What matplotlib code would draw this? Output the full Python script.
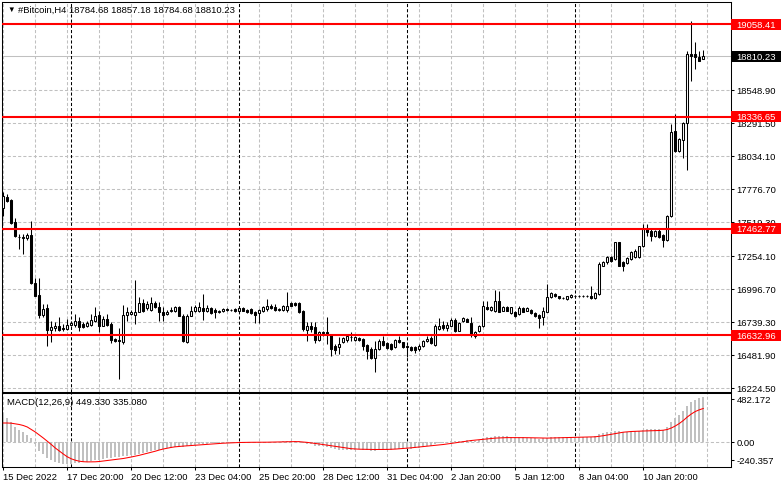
import numpy as np
import matplotlib.pyplot as plt
from matplotlib.patches import Rectangle

# H4 bars, 15 Dec 2022 04:00 .. 11 Jan 2023 20:00
opens = [
    17623, 17709, 17691, 17514, 17400, 17395, 17389, 17415, 17041, 16947,
    16792, 16843, 16677, 16690, 16708, 16687, 16682, 16716, 16716, 16742,
    16721, 16708, 16716, 16747, 16791, 16708, 16760, 16721, 16604, 16596,
    16583, 16791, 16799, 16791, 16817, 16885, 16843, 16833, 16885, 16851,
    16817, 16799, 16822, 16825, 16851, 16786, 16578, 16786, 16825, 16820,
    16843, 16822, 16843, 16828, 16812, 16820, 16835, 16833, 16838, 16822,
    16843, 16833, 16838, 16817, 16804, 16820, 16838, 16864, 16851, 16833,
    16833, 16830, 16885, 16885, 16882, 16825, 16677, 16703, 16695, 16599,
    16656, 16656, 16635, 16552, 16544, 16578, 16596, 16617, 16596, 16609,
    16604, 16560, 16526, 16456, 16526, 16591, 16573, 16565, 16539, 16596,
    16578, 16552, 16544, 16539, 16526, 16552, 16586, 16612, 16560, 16682,
    16713, 16687, 16708, 16755, 16669, 16742, 16760, 16729, 16625, 16664,
    16703, 16851, 16833, 16825, 16903, 16825, 16851, 16807, 16812, 16799,
    16843, 16825, 16833, 16807, 16791, 16773, 16817, 16929, 16955, 16937,
    16921, 16916, 16929, 16937, 16940, 16937, 16942, 16942, 16921, 16955,
    17176, 17202, 17241, 17228, 17358, 17207, 17197, 17228, 17241, 17241,
    17327, 17467, 17449, 17410, 17449, 17415, 17379, 17561, 18229, 18073,
    18159, 18289, 18827, 18827, 18801, 18784.68]
highs = [
    17748, 17735, 17696, 17545, 17423, 17423, 17430, 17527, 17077, 17077,
    16877, 16877, 16747, 16734, 16773, 16721, 16760, 16747, 16799, 16773,
    16739, 16747, 16799, 16856, 16825, 16786, 16799, 16734, 16614, 16687,
    16869, 16851, 16830, 17067, 16929, 16916, 16900, 16929, 16903, 16890,
    16851, 16833, 16851, 16864, 16864, 16799, 16799, 16864, 16869, 16890,
    16955, 16869, 16851, 16843, 16833, 16848, 16843, 16840, 16843, 16856,
    16851, 16838, 16843, 16825, 16838, 16864, 16916, 16877, 16877, 16843,
    16869, 16968, 16895, 16895, 16890, 16833, 16739, 16739, 16734, 16669,
    16669, 16773, 16643, 16565, 16617, 16622, 16635, 16656, 16630, 16617,
    16609, 16565, 16539, 16591, 16604, 16625, 16578, 16570, 16604, 16625,
    16583, 16557, 16552, 16552, 16565, 16596, 16625, 16625, 16721, 16765,
    16747, 16739, 16770, 16765, 16739, 16773, 16770, 16773, 16669, 16713,
    16903, 16903, 16859, 16986, 16981, 16859, 16859, 16856, 16820, 16859,
    16851, 16851, 16838, 16812, 16799, 16851, 17033, 16970, 16963, 16942,
    16932, 16942, 16952, 16947, 16947, 16950, 16947, 17015, 16970, 17202,
    17210, 17254, 17249, 17363, 17363, 17215, 17241, 17293, 17306, 17332,
    17501, 17501, 17462, 17458, 17462, 17423, 17570, 18281, 18359, 18172,
    18300, 18853, 19087, 18918, 18853, 18857.18]
lows = [
    17566, 17670, 17500, 17397, 17306, 17267, 17380, 17033, 16937, 16765,
    16773, 16547, 16583, 16669, 16669, 16669, 16677, 16708, 16695, 16669,
    16692, 16695, 16708, 16734, 16656, 16703, 16708, 16573, 16583, 16292,
    16565, 16747, 16790, 16721, 16812, 16817, 16830, 16825, 16843, 16747,
    16747, 16791, 16812, 16817, 16781, 16583, 16573, 16781, 16817, 16812,
    16755, 16812, 16799, 16765, 16804, 16812, 16825, 16822, 16817, 16817,
    16820, 16804, 16799, 16726, 16726, 16812, 16825, 16838, 16825, 16825,
    16825, 16812, 16859, 16864, 16804, 16669, 16591, 16656, 16573, 16591,
    16630, 16565, 16474, 16487, 16487, 16570, 16583, 16591, 16591, 16591,
    16521, 16448, 16448, 16344, 16521, 16552, 16526, 16521, 16534, 16573,
    16534, 16461, 16513, 16495, 16513, 16544, 16578, 16565, 16552, 16677,
    16677, 16669, 16703, 16656, 16664, 16734, 16734, 16617, 16612, 16656,
    16695, 16833, 16825, 16817, 16812, 16820, 16820, 16799, 16776, 16791,
    16812, 16820, 16799, 16776, 16687, 16713, 16812, 16924, 16932, 16919,
    16916, 16911, 16924, 16929, 16932, 16932, 16929, 16916, 16916, 16947,
    17171, 17189, 17207, 17223, 17171, 17137, 17189, 17223, 17236, 17233,
    17319, 17405, 17371, 17400, 17390, 17319, 17371, 17553, 18065, 18065,
    18013, 17925, 18619, 18710, 18770, 18784.68]
closes = [
    17722, 17683, 17506, 17405, 17397, 17399, 17415, 17041, 16942, 16792,
    16838, 16677, 16698, 16708, 16677, 16682, 16716, 16729, 16742, 16695,
    16700, 16729, 16755, 16781, 16708, 16760, 16716, 16599, 16591, 16586,
    16791, 16817, 16817, 16817, 16885, 16825, 16877, 16885, 16851, 16817,
    16791, 16817, 16830, 16851, 16786, 16591, 16786, 16825, 16851, 16851,
    16822, 16843, 16804, 16812, 16820, 16838, 16833, 16830, 16822, 16846,
    16825, 16812, 16804, 16791, 16833, 16851, 16864, 16843, 16833, 16835,
    16859, 16864, 16864, 16872, 16812, 16682, 16703, 16682, 16599, 16656,
    16648, 16643, 16526, 16518, 16565, 16609, 16625, 16619, 16617, 16596,
    16552, 16513, 16456, 16526, 16591, 16560, 16531, 16526, 16596, 16578,
    16539, 16539, 16521, 16518, 16552, 16586, 16604, 16573, 16708, 16708,
    16687, 16713, 16755, 16664, 16729, 16765, 16739, 16643, 16661, 16708,
    16859, 16838, 16851, 16903, 16817, 16851, 16825, 16851, 16781, 16843,
    16817, 16843, 16807, 16781, 16765, 16825, 16929, 16963, 16937, 16924,
    16924, 16937, 16947, 16940, 16937, 16942, 16937, 16921, 16963, 17189,
    17202, 17241, 17215, 17358, 17176, 17176, 17233, 17280, 17293, 17327,
    17467, 17440, 17405, 17449, 17397, 17379, 17561, 18221, 18073, 18164,
    18289, 18827, 18814, 18801, 18775, 18810.23]

macd_hist = [
    275, 240, 205, 150, 125, 100, 75, 40, -20, -89,
    -122, -155, -178, -198, -211, -218, -221, -218, -214, -208,
    -201, -195, -188, -181, -175, -168, -162, -155, -152, -148,
    -142, -135, -132, -125, -115, -109, -102, -92, -82, -76,
    -69, -63, -56, -50, -46, -46, -40, -33, -30, -23,
    -20, -16, -13, -13, -10, -10, -7, -7, -3, -3,
    -3, -2, -3, -6, -3, 0, 3, 4, 5, 5,
    7, 9, 12, 13, 8, -8, -15, -22, -35, -38,
    -42, -46, -60, -70, -75, -76, -76, -75, -75, -74,
    -78, -84, -90, -85, -78, -76, -76, -76, -70, -66,
    -66, -66, -66, -64, -58, -50, -42, -38, -22, -12,
    -6, 0, 8, 6, 10, 14, 16, 12, 12, 18,
    40, 50, 55, 60, 58, 57, 56, 55, 50, 48,
    46, 45, 42, 38, 34, 36, 44, 50, 52, 52,
    50, 50, 50, 49, 48, 47, 46, 46, 60, 80,
    92, 100, 105, 115, 110, 105, 105, 108, 110, 115,
    125, 130, 130, 130, 128, 125, 150, 205, 240, 275,
    310, 365, 400, 425, 440, 449.33]
macd_signal = [
    190, 190, 188, 182, 175, 165, 150, 125, 100, 70,
    40, 8, -25, -60, -90, -120, -148, -168, -182, -192,
    -197, -199, -199, -198, -195, -190, -186, -181, -176, -171,
    -165, -158, -150, -142, -133, -123, -113, -103, -92, -80,
    -70, -62, -54, -48, -44, -41, -38, -35, -32, -29,
    -26, -23, -20, -17, -14, -12, -10, -8, -6, -5,
    -4, -3, -3, -3, -3, -3, -2, -1, 0, 1,
    2, 3, 4, 4, 3, 0, -4, -9, -14, -20,
    -26, -32, -39, -45, -51, -57, -63, -67, -70, -72,
    -73, -74, -75, -75, -75, -74, -74, -73, -71, -68,
    -65, -62, -58, -54, -50, -46, -42, -38, -34, -30,
    -25, -20, -14, -8, -2, 4, 10, 15, 19, 23,
    27, 31, 35, 39, 41, 43, 44, 44, 44, 44,
    44, 43, 42, 41, 40, 39, 39, 40, 41, 42,
    43, 44, 45, 46, 47, 48, 49, 50, 52, 57,
    63, 70, 77, 85, 92, 98, 102, 105, 107, 109,
    110, 111, 112, 113, 115, 118, 125, 140, 160, 185,
    215, 250, 280, 305, 322, 335.08]

levels = [19058.41, 18336.65, 17462.77, 16632.96]
last_price = 18810.23
price_ticks = [16224.50, 16481.90, 16739.30, 16996.70, 17254.10,
               17519.30, 17776.70, 18034.10, 18291.50, 18548.90]
date_labels = ["15 Dec 2022", "17 Dec 20:00", "20 Dec 12:00", "23 Dec 04:00",
               "25 Dec 20:00", "28 Dec 12:00", "31 Dec 04:00", "2 Jan 20:00",
               "5 Jan 12:00", "8 Jan 04:00", "10 Jan 20:00"]
week_starts = [17, 59, 101, 143]

plt.rcParams['font.family'] = ['Liberation Sans', 'DejaVu Sans']
FS = 6.8
GRID = '#c0c0c0'
DASH = (0, (3, 2))

W, H = 781, 489


def px_box(x0, y0, x1, y1):
    return [x0 / W, 1 - y1 / H, (x1 - x0) / W, (y1 - y0) / H]


fig = plt.figure(figsize=(W / 100, H / 100), dpi=100)
ax = fig.add_axes(px_box(2, 2.5, 731, 392.5))
axm = fig.add_axes(px_box(2, 394, 731, 467.5))

o = np.array(opens)
h = np.array(highs)
l = np.array(lows)
c = np.array(closes)
idx = np.arange(len(c))
up = c >= o

# ---- price panel
ax.vlines(idx, l, h, color='black', lw=0.75, zorder=3)
ax.bar(idx[up], (c - o)[up], bottom=o[up], width=0.5, facecolor='white',
       edgecolor='black', lw=0.75, zorder=4)
ax.bar(idx[~up], (c - o)[~up], bottom=o[~up], width=0.5, facecolor='black',
       edgecolor='black', lw=0.75, zorder=4)

for b in range(0, 177, 8):
    ax.axvline(b, color=GRID, ls=DASH, lw=0.75, zorder=1)
    axm.axvline(b, color=GRID, ls=DASH, lw=0.75, zorder=1)
for b in week_starts:
    ax.axvline(b, color='black', ls=DASH, lw=0.75, zorder=2)
    axm.axvline(b, color='black', ls=DASH, lw=0.75, zorder=2)

ax.axhline(last_price, color=GRID, lw=0.75, zorder=1)
for lv in levels:
    ax.axhline(lv, color='red', lw=1.5, zorder=5)

ax.set_xlim(-0.325, 181.925)
ax.set_ylim(16194.9, 19236.9)
ax.set_xticks([])
ax.yaxis.tick_right()
ax.set_yticks(price_ticks)
ax.set_yticklabels([f"{t:.2f}" for t in price_ticks])
ax.tick_params(axis='y', length=2.5, width=0.75, pad=1.5, labelsize=FS)
ax.grid(axis='y', color=GRID, ls=DASH, lw=0.75, zorder=0)
ax.set_axisbelow(True)

# highlighted price labels on the axis
tr = ax.get_yaxis_transform()
box_w = 50 / 729
half_h = 5.5 / 0.1282
for lv, col in [(v, 'red') for v in levels] + [(last_price, 'black')]:
    ax.add_patch(Rectangle((1.0, lv - half_h), box_w, 2 * half_h, transform=tr,
                           facecolor=col, edgecolor='none', clip_on=False, zorder=10))
    ax.text(1.0 + 5 / 729, lv, f"{lv:.2f}", transform=tr, color='white',
            fontsize=FS, va='center', ha='left', clip_on=False, zorder=11)

# ---- MACD panel
axm.axhline(0, color=GRID, ls=DASH, lw=0.75, zorder=1)
axm.bar(idx, macd_hist, width=0.5, color='#c0c0c0', zorder=2)
axm.plot(idx, macd_signal, color='red', lw=0.75, zorder=3)
axm.set_xlim(-0.325, 181.925)
axm.set_ylim(-245, 490)
axm.yaxis.tick_right()
axm.set_yticks([430, 0, -180])
axm.set_yticklabels(["482.172", "0.00", "-240.357"])
axm.tick_params(axis='y', length=2.5, width=0.75, pad=1.5, labelsize=FS)
axm.set_xticks(range(0, 161, 16))
axm.set_xticklabels(date_labels, ha='left')
axm.tick_params(axis='x', length=2.5, width=0.75, pad=1.5, labelsize=FS)

for a in (ax, axm):
    for s in a.spines.values():
        s.set_linewidth(0.75)
        s.set_color('black')

fig.text(7 / W, 1 - 10 / H, "▼", fontsize=5.5, va='center', ha='left')
fig.text(18 / W, 1 - 10.5 / H, "#Bitcoin,H4 18784.68 18857.18 18784.68 18810.23",
         fontsize=FS, va='center', ha='left')
fig.text(7 / W, 1 - 402.5 / H, "MACD(12,26,9) 449.330 335.080",
         fontsize=FS, va='center', ha='left')

fig.savefig("out.png", dpi=100)
